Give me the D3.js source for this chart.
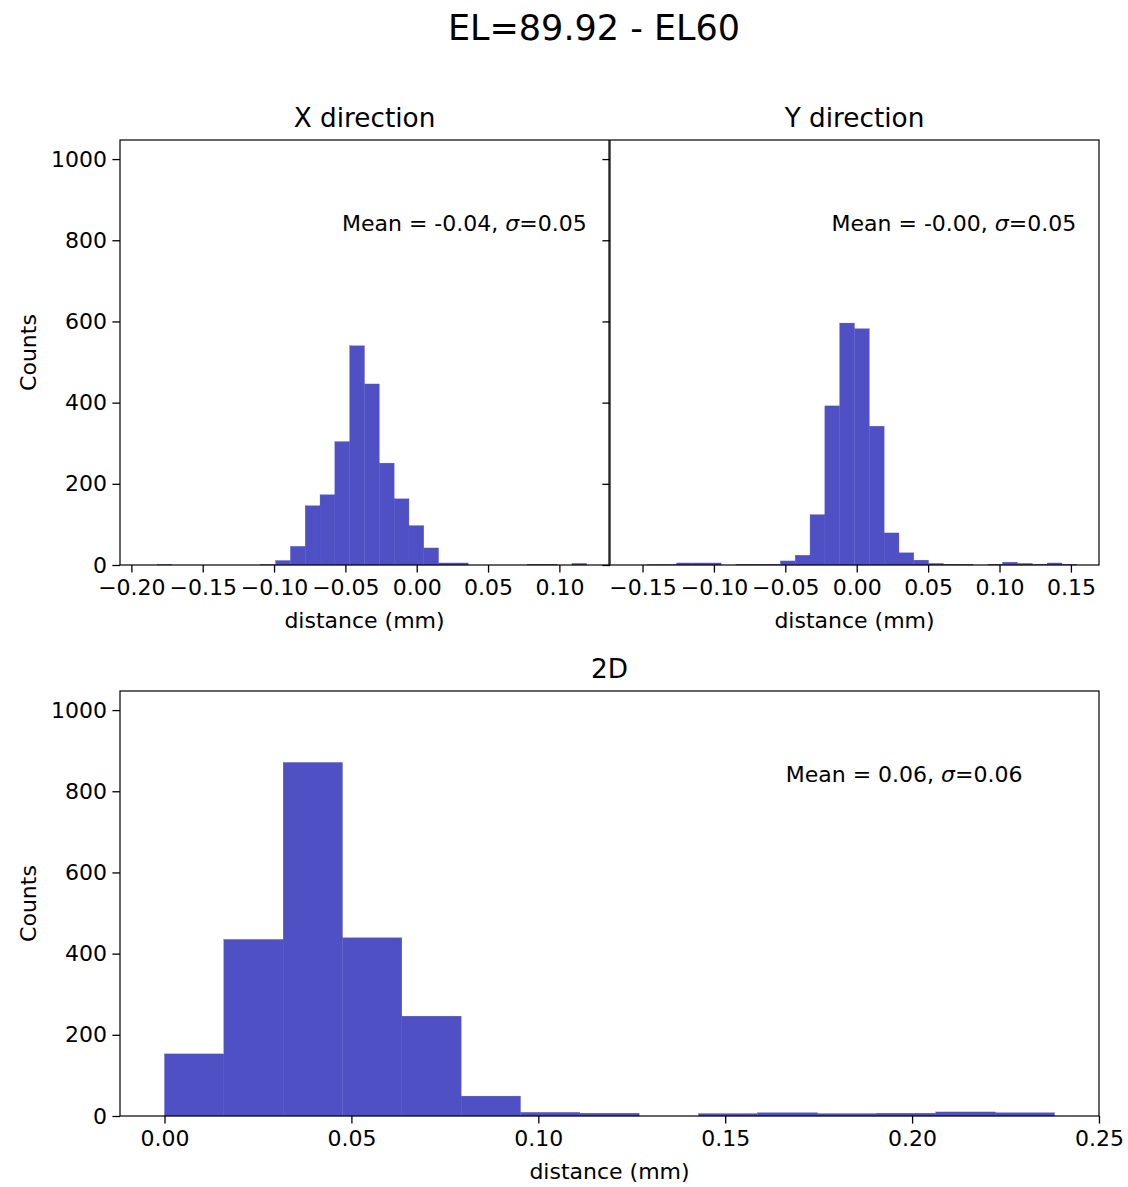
<!DOCTYPE html>
<html>
<head>
<meta charset="utf-8">
<script src="https://cdn.jsdelivr.net/npm/d3@7"></script>
<style>
  html, body { margin: 0; padding: 0; background: #fff; }
  svg { display: block; font-family: "DejaVu Sans", sans-serif; }
</style>
</head>
<body>
<svg id="chart" width="1128" height="1187"></svg>
<script>
// ---------- data ----------
const suptitle = "EL=89.92 - EL60";

const xTitle = "X direction";
const xRange = [-0.1924, 0.1192];          // histogram range (30 bins)
const xCounts = [0, 1, 0, 0, 0, 0, 0, 0, 1, 11, 46, 146, 173, 304, 540, 446, 251, 163, 97, 42, 5, 5, 0, 0, 0, 0, 2, 2, 0, 4];
const xTicks = [-0.20, -0.15, -0.10, -0.05, 0.00, 0.05, 0.10];
const xNote = ["Mean = -0.04, ", "σ", "=0.05"];

const yTitle = "Y direction";
const yRange = [-0.1572, 0.1541];
const yCounts = [0, 1, 1, 5, 5, 5, 0, 2, 2, 2, 10, 24, 124, 392, 596, 582, 342, 79, 30, 12, 4, 2, 2, 0, 2, 7, 4, 2, 5, 2];
const yTicks = [-0.15, -0.10, -0.05, 0.00, 0.05, 0.10, 0.15];
const yNote = ["Mean = -0.00, ", "σ", "=0.05"];

const dTitle = "2D";
const dRange = [0.0, 0.2381];
const dCounts = [153, 435, 871, 439, 246, 49, 9, 7, 0, 6, 8, 6, 7, 10, 8];
const dTicks = [0.00, 0.05, 0.10, 0.15, 0.20, 0.25];
const dNote = ["Mean = 0.06, ", "σ", "=0.06"];

const countTicks = [0, 200, 400, 600, 800, 1000];
const countMax = 1047;

const xLabel = "distance (mm)";
const yLabelText = "Counts";

// ---------- style ----------
const barColor = "#4f50c4";
const tickFont = 22, labelFont = 22, titleFont = 26.3, supFont = 35;

const svg = d3.select("#chart");

svg.append("text")
  .attr("x", 594).attr("y", 40)
  .attr("text-anchor", "middle")
  .attr("font-size", supFont)
  .text(suptitle);

const fmt = v => d3.format(".2f")(v).replace("-", "\u2212");

function panel(opts) {
  const { left, right, top, bottom, range, counts, ticks, title, note, noteFx, showYLabels } = opts;
  const g = svg.append("g");
  const n = counts.length;
  const w = (range[1] - range[0]) / n;
  const pad = (range[1] - range[0]) * 0.05;
  const x = d3.scaleLinear().domain([range[0] - pad, range[1] + pad]).range([left, right]);
  const y = d3.scaleLinear().domain([0, countMax]).range([bottom, top]);

  const bins = counts.map((c, i) => ({ x0: range[0] + i * w, x1: range[0] + (i + 1) * w, c }));

  g.append("g").selectAll("rect").data(bins.filter(b => b.c > 0)).join("rect")
    .attr("x", d => x(d.x0))
    .attr("width", d => x(d.x1) - x(d.x0))
    .attr("y", d => y(d.c))
    .attr("height", d => y(0) - y(d.c))
    .attr("fill", barColor)
    .attr("stroke", barColor)
    .attr("stroke-width", 0.3);

  // axes
  const xAxis = d3.axisBottom(x).tickValues(ticks).tickFormat(fmt).tickSizeInner(7.6).tickSizeOuter(0).tickPadding(7);
  const gx = g.append("g").attr("transform", `translate(0,${bottom})`).call(xAxis);
  gx.select(".domain").remove();
  gx.selectAll("line").attr("stroke", "#000").attr("stroke-width", 1.3);
  gx.selectAll("text").attr("font-size", tickFont).attr("font-family", "DejaVu Sans").attr("fill", "#000");

  const yAxis = d3.axisLeft(y).tickValues(countTicks).tickSizeInner(7.6).tickSizeOuter(0).tickPadding(5.5)
    .tickFormat(showYLabels ? d3.format("d") : () => "");
  const gy = g.append("g").attr("transform", `translate(${left},0)`).call(yAxis);
  gy.select(".domain").remove();
  gy.selectAll("line").attr("stroke", "#000").attr("stroke-width", 1.3);
  gy.selectAll("text").attr("font-size", tickFont).attr("font-family", "DejaVu Sans").attr("fill", "#000");

  // frame
  g.append("rect")
    .attr("x", left).attr("y", top)
    .attr("width", right - left).attr("height", bottom - top)
    .attr("fill", "none").attr("stroke", "#000").attr("stroke-width", 1.2);

  g.append("text")
    .attr("x", (left + right) / 2).attr("y", top - 13)
    .attr("text-anchor", "middle")
    .attr("font-size", titleFont)
    .text(title);

  g.append("text")
    .attr("x", (left + right) / 2).attr("y", bottom + 63)
    .attr("text-anchor", "middle")
    .attr("font-size", labelFont)
    .text(xLabel);

  if (showYLabels) {
    g.append("text")
      .attr("transform", `translate(36,${(top + bottom) / 2}) rotate(-90)`)
      .attr("text-anchor", "middle")
      .attr("font-size", labelFont)
      .text(yLabelText);
  }

  const t = g.append("text")
    .attr("x", left + noteFx * (right - left))
    .attr("y", top + 0.214 * (bottom - top))
    .attr("text-anchor", "start")
    .attr("font-size", tickFont);
  t.append("tspan").text(note[0]);
  t.append("tspan").attr("font-style", "italic").text(note[1]);
  t.append("tspan").text(note[2]);
}

panel({ left: 120, right: 609, top: 140, bottom: 565, range: xRange, counts: xCounts, ticks: xTicks,
        title: xTitle, note: xNote, noteFx: 0.454, showYLabels: true });
panel({ left: 610, right: 1099, top: 140, bottom: 565, range: yRange, counts: yCounts, ticks: yTicks,
        title: yTitle, note: yNote, noteFx: 0.453, showYLabels: false });
panel({ left: 120, right: 1099, top: 691, bottom: 1116, range: dRange, counts: dCounts, ticks: dTicks,
        title: dTitle, note: dNote, noteFx: 0.680, showYLabels: true });
</script>
</body>
</html>
